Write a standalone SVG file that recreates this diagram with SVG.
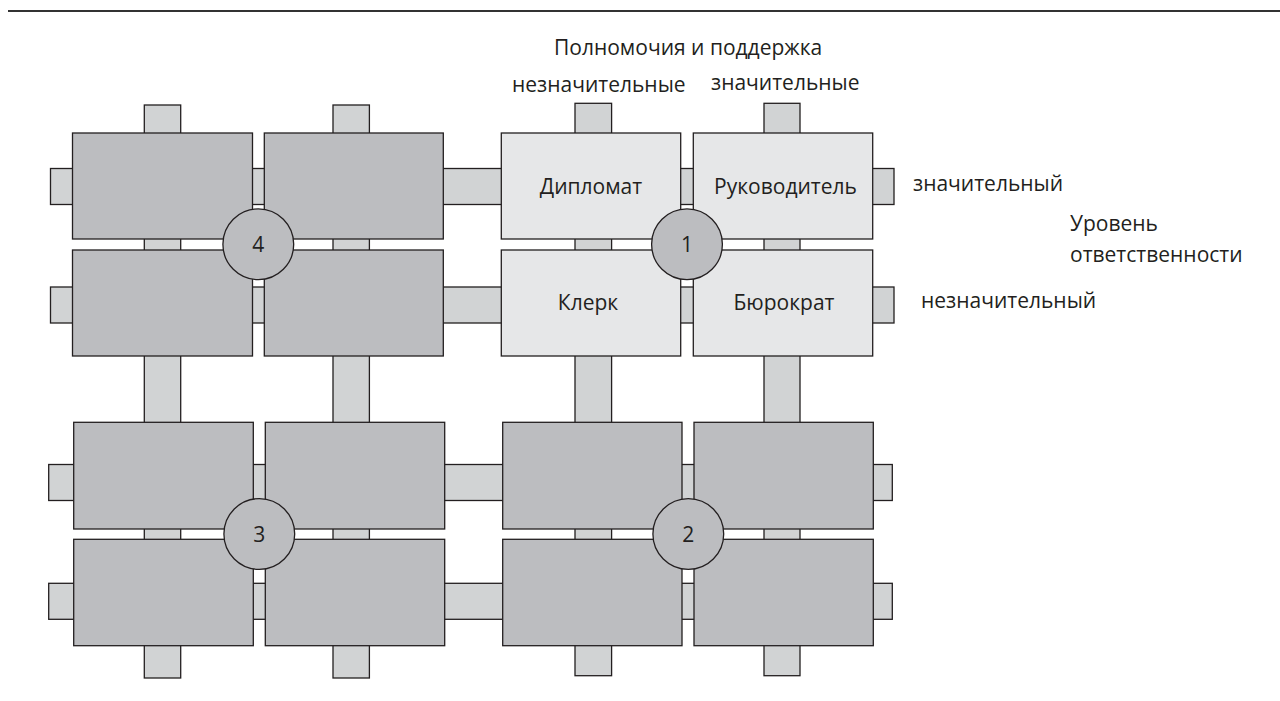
<svg xmlns="http://www.w3.org/2000/svg" width="1280" height="701" viewBox="0 0 1280 701">
<style>
.bar{fill:#d1d3d4;stroke:#231f20;stroke-width:1.3}
.dk{fill:#bcbdc0;stroke:#231f20;stroke-width:1.3}
.lt{fill:#e6e7e8;stroke:#231f20;stroke-width:1.3}
.cir{fill:#bcbdc0;stroke:#231f20;stroke-width:1.3}
text{font-family:"Open Sans","Noto Sans","Liberation Sans",sans-serif;font-size:21px;fill:#231f20}
.c{text-anchor:middle}
</style>
<rect width="1280" height="701" fill="#ffffff"/>
<line x1="8" y1="11" x2="1280" y2="11" stroke="#333333" stroke-width="2"/>
<g id="connectors">
<rect class="bar" x="50.5" y="168.5" width="843.5" height="36"/>
<rect class="bar" x="50.5" y="287" width="843.5" height="36"/>
<rect class="bar" x="48.7" y="464.5" width="843.6" height="36"/>
<rect class="bar" x="48.7" y="583.3" width="843.6" height="36"/>
<rect class="bar" x="144.3" y="105" width="36.4" height="573"/>
<rect class="bar" x="333" y="105" width="36.4" height="573"/>
<rect class="bar" x="575" y="103.3" width="36.6" height="572.4"/>
<rect class="bar" x="764" y="103.3" width="36" height="572.4"/>
</g>
<g id="group4">
<rect class="dk" x="72.5" y="133" width="180" height="106"/>
<rect class="dk" x="264.3" y="133" width="179" height="106"/>
<rect class="dk" x="72.5" y="250" width="180" height="106"/>
<rect class="dk" x="264.3" y="250" width="179" height="106"/>
</g>
<g id="diplomat"><rect class="lt" x="501.3" y="133" width="179.4" height="106"/><text class="c" x="591" y="193.5">Дипломат</text></g>
<g id="rukovoditel"><rect class="lt" x="693.3" y="133" width="179.4" height="106"/><text class="c" x="785.5" y="193.5">Руководитель</text></g>
<g id="klerk"><rect class="lt" x="501.3" y="250" width="179.4" height="106"/><text class="c" x="588" y="310">Клерк</text></g>
<g id="byurokrat"><rect class="lt" x="693.3" y="250" width="179.4" height="106"/><text class="c" x="784" y="310">Бюрократ</text></g>
<g id="group3">
<rect class="dk" x="73.7" y="422.3" width="179.6" height="106.7"/>
<rect class="dk" x="265.3" y="422.3" width="179.4" height="106.7"/>
<rect class="dk" x="73.7" y="539.3" width="179.6" height="106.4"/>
<rect class="dk" x="265.3" y="539.3" width="179.4" height="106.4"/>
</g>
<g id="group2">
<rect class="dk" x="502.7" y="422.3" width="179.3" height="106.7"/>
<rect class="dk" x="694" y="422.3" width="179.3" height="106.7"/>
<rect class="dk" x="502.7" y="539.3" width="179.3" height="106.4"/>
<rect class="dk" x="694" y="539.3" width="179.3" height="106.4"/>
</g>
<g id="circle4"><circle class="cir" cx="258.3" cy="244.3" r="35.4"/><text class="c" x="258.3" y="252">4</text></g>
<g id="circle1"><circle class="cir" cx="687" cy="244.3" r="35.4"/><text class="c" x="687" y="252">1</text></g>
<g id="circle3"><circle class="cir" cx="259.3" cy="534" r="35.4"/><text class="c" x="259.3" y="541.5">3</text></g>
<g id="circle2"><circle class="cir" cx="688.3" cy="534" r="35.4"/><text class="c" x="688.3" y="541.5">2</text></g>
<g id="labels">
<text x="554" y="55">Полномочия и поддержка</text>
<text x="512" y="92">незначительные</text>
<text x="711" y="90">значительные</text>
<text x="913" y="191">значительный</text>
<text x="1070" y="231">Уровень</text>
<text x="1070" y="262">ответственности</text>
<text x="921" y="308">незначительный</text>
</g>
</svg>
